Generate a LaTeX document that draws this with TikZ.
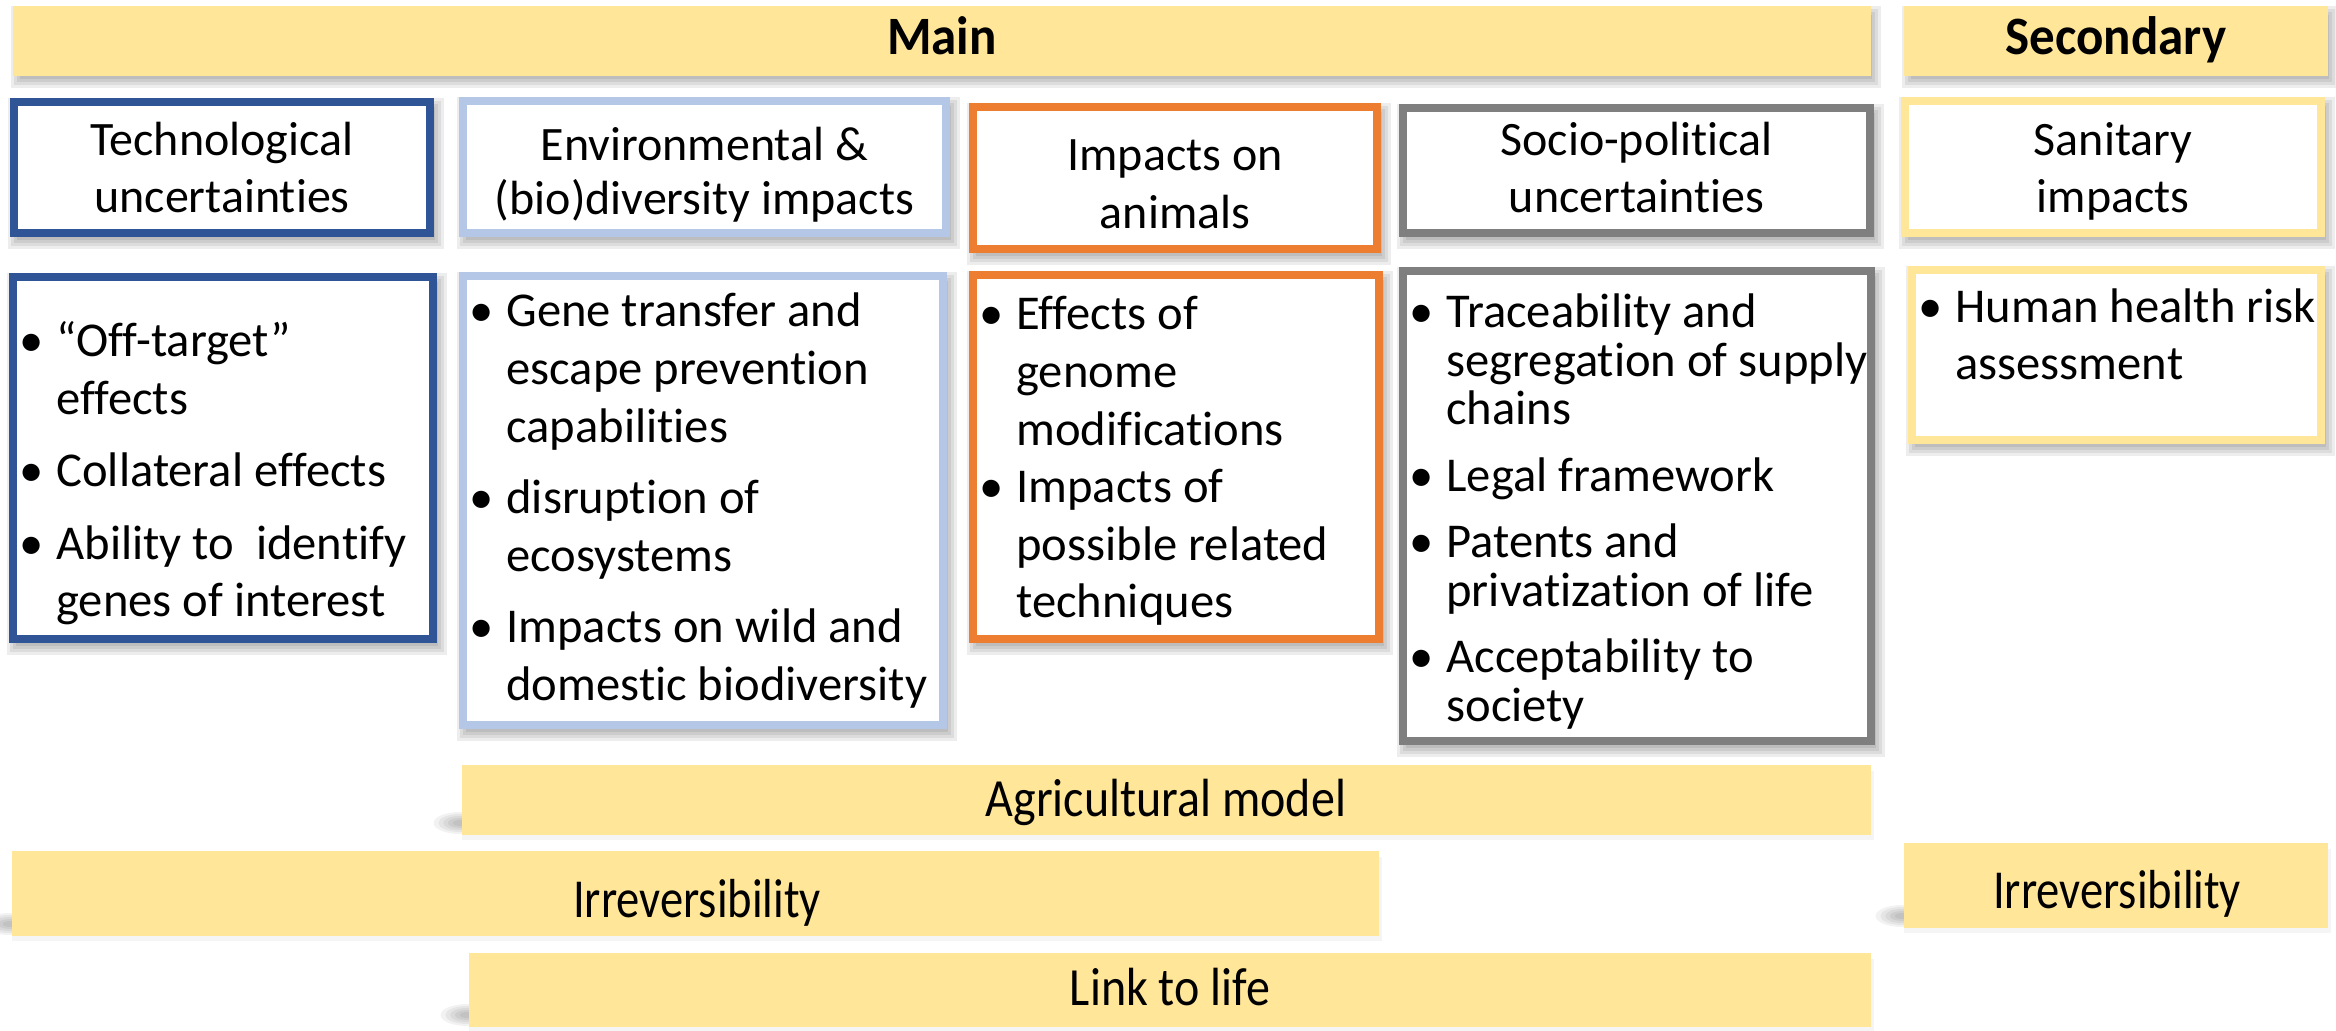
\documentclass[tikz,border=0pt]{standalone}
\usepackage{fontspec}
\setmainfont{Carlito}[Ligatures=NoCommon]
\definecolor{dblue}{HTML}{2F5597}
\definecolor{lblue}{HTML}{B4C7E7}
\definecolor{orng}{HTML}{ED7D31}
\definecolor{gry}{HTML}{7F7F7F}
\definecolor{ylw}{HTML}{FFE699}
\newcommand{\nl}{\hfil\break}
\newcommand{\bitem}[1]{\par\noindent\hangindent=18.5pt\hangafter=1\makebox[18.5pt][l]{•}#1\par}
% list body: #1 font size, #2 baselineskip, #3 item gap, #4 items
\newcommand{\blist}[4]{\parbox[t]{270pt}{\fontsize{#1}{#2}\selectfont\parskip=#3\relax #4}}
% soft shadow: x1 y1 x2 y2 (px)
\newcommand{\shd}[4]{%
  \foreach \e in {-3,0,3,6}{\fill[black,opacity=0.07] (#1+4-\e,#2+6-\e) rectangle (#3+4+\e,#4+6+\e);}}
\newcommand{\lshd}[2]{% lower-left smudge at corner x,y
  \foreach \r in {3,5,7,9,11}{\fill[black,opacity=0.05] (#1-2,#2-12) ellipse [x radius=\r*2.4, y radius=\r];}}
\tikzset{
  frame/.style={line width=4pt, fill=white},
  bar/.style={fill=ylw},
  hdr/.style={anchor=north, align=center, inner sep=0pt, font=\fontsize{24pt}{28.5pt}\selectfont},
  lst/.style={anchor=base west, inner sep=0pt},
  bartxt/.style={anchor=base, inner sep=0pt, font=\fontsize{24pt}{28pt}\selectfont},
  toptxt/.style={anchor=base, inner sep=0pt, font=\fontsize{25.5pt}{30pt}\selectfont\bfseries},
}
\begin{document}
\begin{tikzpicture}[x=0.5pt,y=-0.5pt]
\useasboundingbox (0,0) rectangle (2336,1031);
\fill[white] (0,0) rectangle (2336,1031);

% ---- shadows
\shd{13}{6}{1871}{76}
\shd{1904}{6}{2328}{76}
\foreach \a/\b/\c/\d in {10/98/434/237, 459/97/950/237, 969/103/1381/253, 1399/104/1874/237, 1901/97/2325/237,
  9/273/437/643, 459/272/947/729, 969/271/1383/643, 1399/267/1875/745, 1908/266/2325/444}{\shd{\a}{\b}{\c}{\d}}
\foreach \a/\b/\c/\d in {462/765/1871/835, 12/851/1379/936, 1904/843/2328/928, 469/953/1871/1027}{
  \fill[black,opacity=0.04] (\a,\b+6) rectangle (\c+3,\d+5);
  \lshd{\a}{\d}}

% ---- top bars
\fill[bar] (13,6) rectangle (1871,76);
\fill[bar] (1904,6) rectangle (2328,76);
\node[toptxt] (main) at (942,55) {\scalebox{1}[1.06]{Main}};
\node[toptxt] (secondary) at (2116,55) {\scalebox{1}[1.06]{Secondary}};

% ---- header boxes
\draw[frame, draw=dblue] (14,102) rectangle (430,233);
\draw[frame, draw=lblue] (463,101) rectangle (946,233);
\draw[frame, draw=orng] (973,107) rectangle (1377,249);
\draw[frame, draw=gry]  (1403,108) rectangle (1870,233);
\draw[frame, draw=ylw]  (1905,101) rectangle (2321,233);

\node[hdr] (h1) at (222,115) {\rule{0pt}{20pt}Technological\\uncertainties};
\node[hdr, font=\fontsize{24pt}{27pt}\selectfont] (h2) at (704.5,120) {\rule{0pt}{20pt}Environmental \&\\(bio)diversity impacts};
\node[hdr, font=\fontsize{24pt}{29pt}\selectfont] (h3) at (1175,130) {\rule{0pt}{20pt}Impacts on\\animals};
\node[hdr] (h4) at (1636.5,115) {\rule{0pt}{20pt}Socio-political\\uncertainties};
\node[hdr] (h5) at (2113,115) {\rule{0pt}{20pt}Sanitary\\impacts};

% ---- bullet boxes
\draw[frame, draw=dblue] (13,277) rectangle (433,639);
\draw[frame, draw=lblue] (463,276) rectangle (943,725);
\draw[frame, draw=orng] (973,275) rectangle (1379,639);
\draw[frame, draw=gry]  (1403,271) rectangle (1871,741);
\draw[frame, draw=ylw]  (1912,270) rectangle (2321,440);

\node[lst] (l1) at (19,357) {\blist{24.3pt}{28.75pt}{7.5pt}{%
  \bitem{“Off-target”\nl effects}
  \bitem{Collateral effects}
  \bitem{Ability to~ identify\nl genes of interest}}};
\node[lst] (l2) at (469,327) {\blist{24.3pt}{29pt}{6.5pt}{%
  \bitem{Gene transfer and\nl escape prevention\nl capabilities}
  \bitem{disruption of\nl ecosystems}
  \bitem{Impacts on wild and\nl domestic biodiversity}}};
\node[lst] (l3) at (979,330) {\blist{24.3pt}{28.8pt}{0pt}{%
  \bitem{Effects of\nl genome\nl modifications}
  \bitem{Impacts of\nl possible related\nl techniques}}};
\node[lst] (l4) at (1409,328) {\blist{24.3pt}{24.25pt}{9pt}{%
  \bitem{Traceability and\nl segregation of supply\nl chains}
  \bitem{Legal framework}
  \bitem{Patents and\nl privatization of life}
  \bitem{Acceptability to\nl society}}};
\node[lst] (l5) at (1918,323) {\blist{24.3pt}{28.5pt}{0pt}{%
  \bitem{Human health risk\nl assessment}}};

% ---- lower bars
\fill[bar] (462,765) rectangle (1871,835);
\fill[bar] (12,851) rectangle (1379,936);
\fill[bar] (1904,843) rectangle (2328,928);
\fill[bar] (469,953) rectangle (1871,1027);
\node[bartxt] (agri) at (1166,816) {\scalebox{1}[1.12]{Agricultural model}};
\node[bartxt, font=\fontsize{23.3pt}{28pt}\selectfont] (irrl) at (697,917) {\scalebox{1}[1.18]{Irreversibility}};
\node[bartxt, font=\fontsize{23.3pt}{28pt}\selectfont] (irrr) at (2117,908) {\scalebox{1}[1.18]{Irreversibility}};
\node[bartxt] (link) at (1170,1005) {\scalebox{1}[1.12]{Link to life}};
\end{tikzpicture}
\end{document}
